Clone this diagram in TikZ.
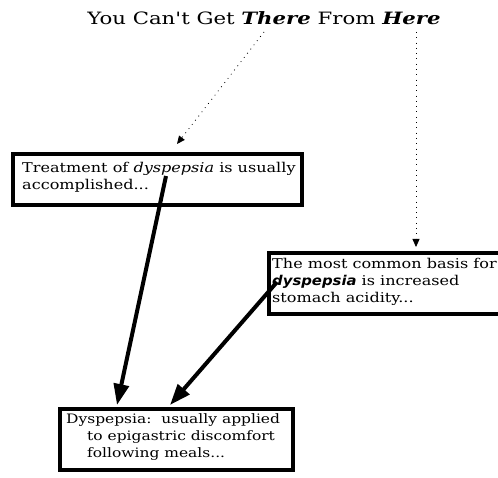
\documentclass[tikz,border=0pt]{standalone}
\usepackage{fontspec}
\setmainfont{DejaVu Serif}[FakeStretch=1.19]
\setsansfont{DejaVu Sans}[FakeStretch=1.1]
\newfontfamily\titlefont{DejaVu Serif}[FakeStretch=1.25]
\usetikzlibrary{arrows.meta}
\tikzset{
  boxnode/.style={draw=black, line width=3.8pt, fill=white, inner xsep=0pt, inner ysep=0pt, anchor=north west},
  boxtext/.style={anchor=west, inner sep=0pt, align=left, font=\fontsize{13.5}{17}\selectfont},
  bigarrow/.style={line width=4pt, -{Triangle[length=21pt,width=15pt]}},
  dotarrow/.style={line width=0.8pt, dash pattern=on 0.8pt off 4.5pt, -{Triangle[length=8pt,width=7pt]}},
}
\begin{document}
\begin{tikzpicture}[x=1pt,y=-1pt]
\useasboundingbox (0,0) rectangle (498,478);
% title
\node[anchor=base, inner sep=0pt, font=\titlefont\fontsize{17}{22}\selectfont] (title) at (264,25)
  {You Can't Get \textit{\textbf{There}} From \textit{\textbf{Here}}};
% boxes
\node[boxnode, minimum width=289pt, minimum height=51pt] (b1) at (11,152) {};
\node[boxtext] (t1) at (22,177.5) {Treatment of \textit{dyspepsia} is usually\\accomplished...};
\node[boxnode, minimum width=235pt, minimum height=61pt] (b2) at (267,251) {};
\node[boxtext] (t2) at (272,281.5) {The most common basis for\\{\sffamily\bfseries\itshape dyspepsia} is increased\\stomach acidity...};
\node[boxnode, minimum width=233pt, minimum height=61pt] (b3) at (58,407) {};
\node[boxtext, font=\fontsize{13}{17}\selectfont] (t3) at (66,437.5) {Dyspepsia:\ \ usually applied\\\hspace*{21pt}to epigastric discomfort\\\hspace*{21pt}following meals...};
% connector endpoints
\coordinate (s1) at (166,176);
\coordinate (e1) at (117,405);
\coordinate (s2) at (277,282);
\coordinate (e2) at (170,405);
\coordinate (d1s) at (264,32);
\coordinate (d1e) at (177,144);
\coordinate (d2s) at (416,32);
\coordinate (d2e) at (416,247);
\draw[bigarrow] (s1) -- (e1);
\draw[bigarrow] (s2) -- (e2);
\draw[dotarrow] (d1s) -- (d1e);
\draw[dotarrow] (d2s) -- (d2e);
\end{tikzpicture}
\end{document}
